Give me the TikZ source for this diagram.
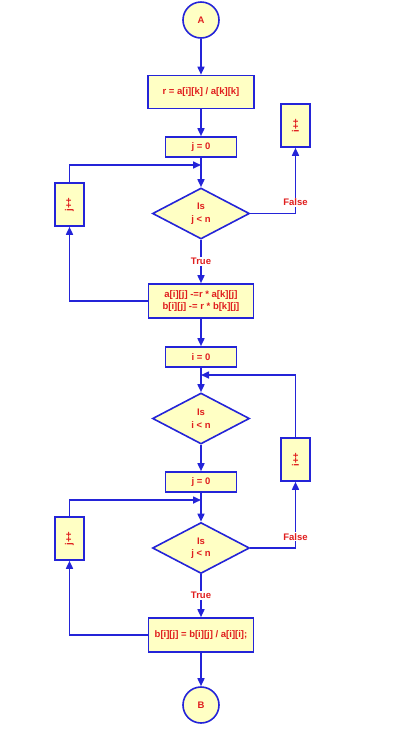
\documentclass[tikz,border=0pt]{standalone}
\usepackage{fontspec}
\setmainfont{Liberation Sans}
\usetikzlibrary{shapes.geometric,arrows.meta}
\definecolor{fc}{HTML}{FFFFC4}
\definecolor{lc}{HTML}{2424D8}
\definecolor{tc}{HTML}{E01E1E}
\tikzset{
  base/.style={draw=lc, fill=fc, line width=1.6pt, text=tc, font=\bfseries\fontsize{9.5}{12.5}\selectfont, inner sep=0pt},
  term/.style={base, circle, minimum size=36pt},
  proc/.style={base, rectangle, minimum width=#1, minimum height=20pt},
  proc/.default=71pt,
  vbox/.style={base, rectangle, minimum width=29pt, minimum height=43pt},
  dec/.style={base, diamond, minimum width=97pt, minimum height=51pt, aspect=1.9, align=center},
  conn/.style={draw=lc, line width=1.6pt, -{Triangle[length=8pt,width=7pt]}},
  lab/.style={fill=white, text=tc, font=\bfseries\fontsize{9.5}{12}\selectfont, inner sep=1pt}
}
\begin{document}
\begin{tikzpicture}[x=1pt,y=-1pt]
\useasboundingbox (0,0) rectangle (407,729);
% nodes
\node[term] (A) at (201,20) {A};
\node[proc=106pt, minimum height=33pt] (r) at (201,92) {r = a[i][k] / a[k][k]};
\node[proc] (j0a) at (201,147) {j = 0};
\node[dec] (d1) at (201,213.5) {Is\\j < n};
\node[vbox] (ipA) at (295.5,125.5) {\rotatebox{90}{i++}};
\node[vbox] (jpA) at (69.5,204.5) {\rotatebox{90}{j++}};
\node[proc=105pt, minimum height=34pt, align=center] (upd) at (201,301) {a[i][j] -=r * a[k][j]\\b[i][j] -= r * b[k][j]};
\node[proc] (i0) at (201,357) {i = 0};
\node[dec] (d2) at (201,418.5) {Is\\i < n};
\node[proc] (j0b) at (201,482) {j = 0};
\node[vbox] (ipB) at (295.5,459.5) {\rotatebox{90}{i++}};
\node[vbox] (jpB) at (69.5,538.5) {\rotatebox{90}{j++}};
\node[dec] (d3) at (201,548) {Is\\j < n};
\node[proc=105pt, minimum height=34pt] (div) at (201,635) {b[i][j] = b[i][j] / a[i][i];};
\node[term] (B) at (201,705) {B};
\coordinate (c1) at (201,165);
\coordinate (c2) at (201,375);
\coordinate (c3) at (201,500);
% connectors
\draw[conn] (A) -- (r);
\draw[conn] (r) -- (j0a);
\draw[conn] (j0a) -- (d1);
\draw[conn] (jpA.north) |- (c1);
\draw[conn] (d1.east) -| (ipA.south) node[lab, pos=0.585] {False};
\draw[conn] (d1.south) -- (upd.north) node[lab, midway] {True};
\draw[conn] (upd.west) -| (jpA.south);
\draw[conn] (upd) -- (i0);
\draw[conn] (i0) -- (d2);
\draw[conn] (ipB.north) |- (c2);
\draw[conn] (d2) -- (j0b);
\draw[conn] (j0b) -- (d3);
\draw[conn] (jpB.north) |- (c3);
\draw[conn] (d3.east) -| (ipB.south) node[lab, pos=0.585] {False};
\draw[conn] (d3.south) -- (div.north) node[lab, midway] {True};
\draw[conn] (div.west) -| (jpB.south);
\draw[conn] (div) -- (B);
\end{tikzpicture}
\end{document}
